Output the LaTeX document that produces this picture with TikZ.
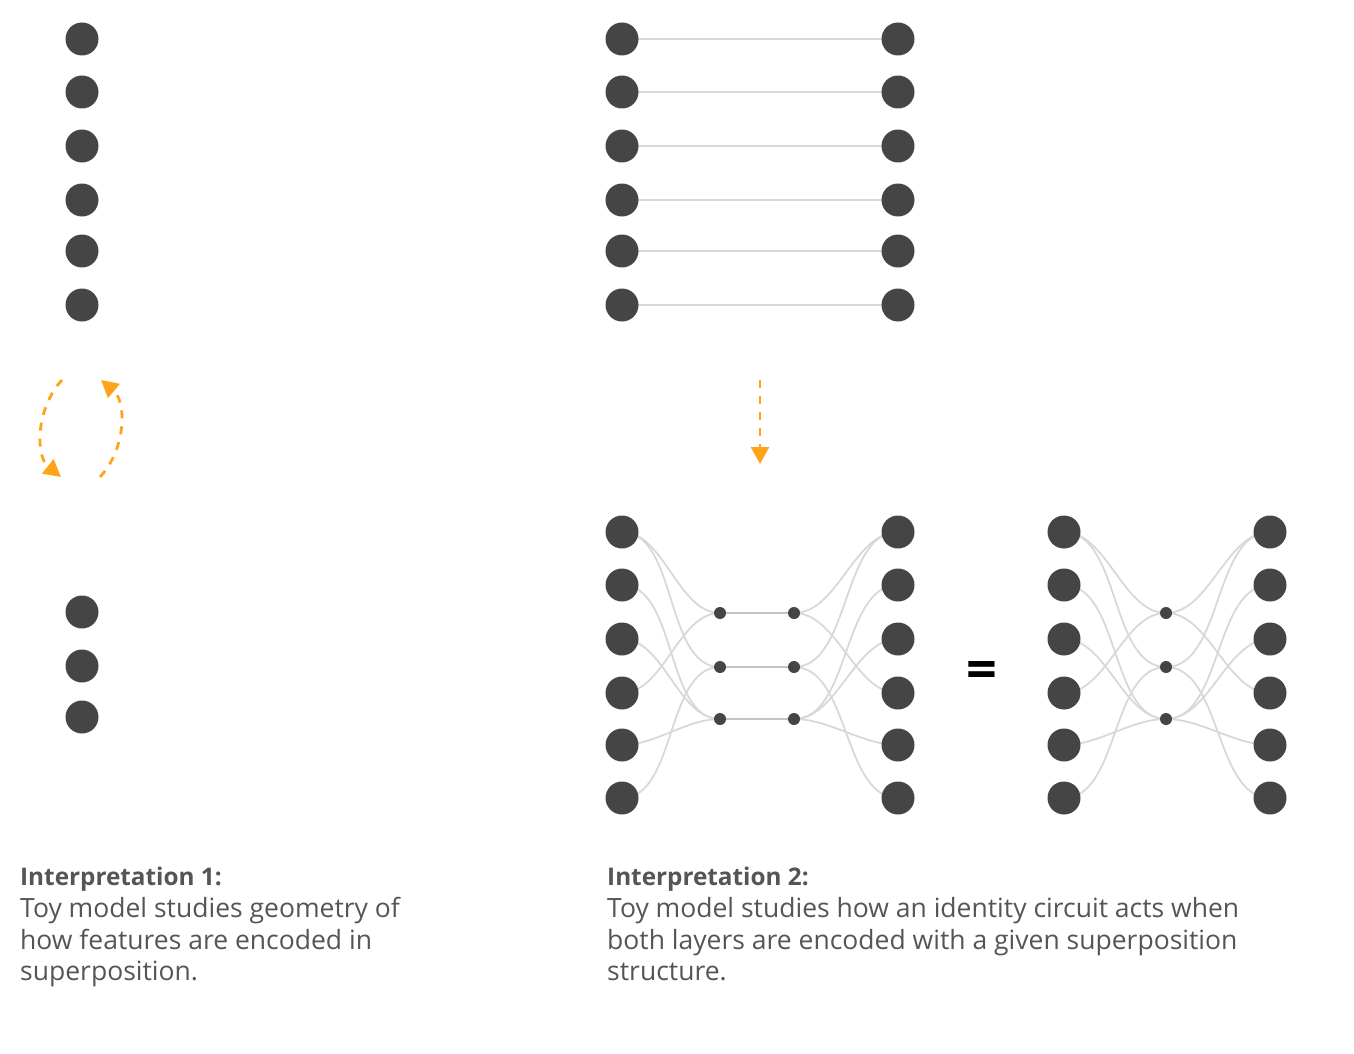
\documentclass[tikz,border=0pt]{standalone}
\usepackage{fontspec}
\setmainfont{Open Sans}
\usetikzlibrary{arrows.meta}
\pgfdeclarelayer{bg}\pgfsetlayers{bg,main}
\definecolor{dot}{HTML}{454545}
\definecolor{wire}{HTML}{D8D8D8}
\definecolor{wiredk}{HTML}{C4C4C4}
\definecolor{orng}{HTML}{FFA31A}
\definecolor{txt}{HTML}{555555}
\begin{document}
\begin{tikzpicture}[x=1pt,y=-1pt,
  big/.style={circle,fill=dot,minimum size=33pt,inner sep=0pt},
  small/.style={circle,fill=dot,minimum size=12pt,inner sep=0pt},
  wireline/.style={draw=wire,line width=1.8pt},
  midline/.style={draw=wiredk,line width=1.8pt},
  sig/.style={wireline,out=0,in=180,looseness=0.85},
  orarrow/.style={draw=orng,line width=2.8pt,dash pattern=on 8pt off 8pt,-{Triangle[length=17pt,width=18pt]}},
  txtstyle/.style={anchor=base west,inner sep=0pt,text=txt,font=\fontsize{26.5}{32}\selectfont},
  headstyle/.style={txtstyle,font=\fontsize{24.3}{32}\selectfont\bfseries}
]
\useasboundingbox (0,0) rectangle (1354,1054);

% left column
\foreach \i/\y in {1/39,2/92,3/146,4/200,5/251,6/305}
  \node[big] (a\i) at (82,\y) {};
\foreach \i/\y in {1/612,2/666,3/717}
  \node[big] (b\i) at (82,\y) {};

% circular arrows
\coordinate (c1s) at (62,380);
\coordinate (c1e) at (61,477);
\coordinate (c2s) at (100,477);
\coordinate (c2e) at (101,380);
\draw[orarrow] (c1s) .. controls (36,408) and (35,456) .. (c1e);
\draw[orarrow] (c2s) .. controls (126,449) and (127,402) .. (c2e);

% top middle
\foreach \i/\y in {1/39,2/92,3/146,4/200,5/251,6/305}{
  \node[big] (tl\i) at (622,\y) {};
  \node[big] (tr\i) at (898,\y) {};
  \begin{pgfonlayer}{bg}\draw[wireline] (tl\i.center) -- (tr\i.center);\end{pgfonlayer}
}

% down arrow
\coordinate (d0) at (760,380);
\coordinate (d1) at (760,464);
\draw[orarrow] (d0) -- (d1);

% bottom middle
\foreach \i/\y in {1/532,2/585,3/639,4/693,5/745,6/798}{
  \node[big] (pl\i) at (622,\y) {};
  \node[big] (pr\i) at (898,\y) {};
  \node[big] (ql\i) at (1064,\y) {};
  \node[big] (qr\i) at (1270,\y) {};
}
\foreach \i/\y in {1/613,2/667,3/719}{
  \node[small] (m\i) at (720,\y) {};
  \node[small] (n\i) at (794,\y) {};
  \node[small] (k\i) at (1166,\y) {};
  \begin{pgfonlayer}{bg}\draw[midline] (m\i.center) -- (n\i.center);\end{pgfonlayer}
}
\begin{pgfonlayer}{bg}
\foreach \l/\m in {1/1,4/1,1/2,6/2,2/3,3/3,5/3}{
  \draw[sig] (pl\l.center) to (m\m.center);
  \draw[sig] (n\m.center) to (pr\l.center);
  \draw[sig] (ql\l.center) to (k\m.center);
  \draw[sig] (k\m.center) to (qr\l.center);
}
\end{pgfonlayer}

\node[inner sep=0pt,font=\fontsize{54}{54}\selectfont\bfseries] (eq) at (982,675) {=};

% texts
\node[headstyle] (h1) at (20,885) {Interpretation 1:};
\node[txtstyle] (t11) at (20,917) {Toy model studies geometry of};
\node[txtstyle] (t12) at (20,949) {how features are encoded in};
\node[txtstyle] (t13) at (20,980) {superposition.};
\node[headstyle] (h2) at (607,885) {Interpretation 2:};
\node[txtstyle] (t21) at (607,917) {Toy model studies how an identity circuit acts when};
\node[txtstyle] (t22) at (607,949) {both layers are encoded with a given superposition};
\node[txtstyle] (t23) at (607,980) {structure.};
\end{tikzpicture}
\end{document}
